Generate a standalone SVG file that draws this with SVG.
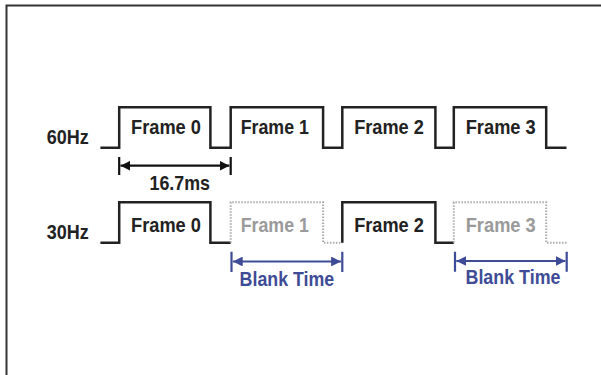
<svg xmlns="http://www.w3.org/2000/svg" width="601" height="375" viewBox="0 0 601 375">
<style>
  text { font-family: "Liberation Sans", Arial, sans-serif; font-weight: bold; font-size: 20.5px; }
  .lbl { fill: #222; }
  .ghost { fill: #9a9a9a; }
  .blue { fill: #3e4b96; }
  .wave { fill: none; stroke: #222; stroke-width: 2.5; stroke-linejoin: miter; }
  .dot { fill: none; stroke: #aaaaaa; stroke-width: 2; stroke-dasharray: 1.5 1.5; }
  .dim { fill: none; stroke: #111; stroke-width: 2.2; }
  .dimb { fill: none; stroke: #3e4b96; stroke-width: 2.2; }
</style>
<defs>
  <marker id="ahK" viewBox="0 0 10 10" refX="10" refY="5" markerWidth="4.5" markerHeight="4.5" orient="auto-start-reverse" markerUnits="strokeWidth">
    <path d="M0,0 L10,5 L0,10 z" fill="#111"/>
  </marker>
  <marker id="ahB" viewBox="0 0 10 10" refX="10" refY="5" markerWidth="4.5" markerHeight="4.5" orient="auto-start-reverse" markerUnits="strokeWidth">
    <path d="M0,0 L10,5 L0,10 z" fill="#3e4b96"/>
  </marker>
</defs>
<rect width="601" height="375" fill="#ffffff"/>
<path d="M6.5,375 V5.5 H601" fill="none" stroke="#333" stroke-width="2"/>

<g id="row60">
  <text class="lbl" x="46.8" y="144.3" textLength="42" lengthAdjust="spacingAndGlyphs">60Hz</text>
  <path class="wave" d="M100.4,147.7 H119.2 V107.3 H210.4 V147.7 H230.7 V107.3 H323.1 V147.7 H342.3 V107.3 H435.4 V147.7 H453.8 V107.3 H546.2 V147.7 H566.5"/>
  <text class="lbl" x="131" y="134" textLength="70" lengthAdjust="spacingAndGlyphs">Frame 0</text>
  <text class="lbl" x="240.7" y="134" textLength="68.2" lengthAdjust="spacingAndGlyphs">Frame 1</text>
  <text class="lbl" x="354.2" y="134" textLength="69.7" lengthAdjust="spacingAndGlyphs">Frame 2</text>
  <text class="lbl" x="465.7" y="134" textLength="70.1" lengthAdjust="spacingAndGlyphs">Frame 3</text>
</g>

<g id="row30">
  <text class="lbl" x="46.8" y="238.5" textLength="42" lengthAdjust="spacingAndGlyphs">30Hz</text>
  <path class="wave" d="M100.4,242.7 H119.2 V202.3 H210.4 V242.7 H230.7"/>
  <path class="dot" d="M230.7,242.7 V202.3 H323.1 V242.7 H342.3"/>
  <path class="wave" d="M342.3,242.7 V202.3 H435.4 V242.7 H453.8"/>
  <path class="dot" d="M453.8,242.7 V202.3 H546.2 V242.7 H566.5"/>
  <text class="lbl" x="131" y="231.5" textLength="70" lengthAdjust="spacingAndGlyphs">Frame 0</text>
  <text class="ghost" x="240.7" y="231.5" textLength="68.2" lengthAdjust="spacingAndGlyphs">Frame 1</text>
  <text class="lbl" x="354.2" y="231.5" textLength="69.7" lengthAdjust="spacingAndGlyphs">Frame 2</text>
  <text class="ghost" x="465.7" y="231.5" textLength="70.1" lengthAdjust="spacingAndGlyphs">Frame 3</text>
</g>

<g id="connectors">
  <g id="period">
    <path class="dim" d="M119.2,157 V175 M230.7,157 V175"/>
    <path class="dim" d="M120.5,165.7 H229.4" marker-start="url(#ahK)" marker-end="url(#ahK)"/>
    <text class="lbl" x="149.5" y="190.3" textLength="60.5" lengthAdjust="spacingAndGlyphs">16.7ms</text>
  </g>
  <g id="blank1">
    <path class="dimb" d="M231.5,251.7 V272 M342.3,251.7 V272"/>
    <path class="dimb" d="M232.8,261.5 H341" marker-start="url(#ahB)" marker-end="url(#ahB)"/>
    <text class="blue" x="239.6" y="285.5" textLength="94.6" lengthAdjust="spacingAndGlyphs">Blank Time</text>
  </g>
  <g id="blank2">
    <path class="dimb" d="M455,251.7 V271.7 M566.7,251.7 V271.7"/>
    <path class="dimb" d="M456.3,261 H565.4" marker-start="url(#ahB)" marker-end="url(#ahB)"/>
    <text class="blue" x="465.5" y="284.3" textLength="95" lengthAdjust="spacingAndGlyphs">Blank Time</text>
  </g>
</g>
</svg>
